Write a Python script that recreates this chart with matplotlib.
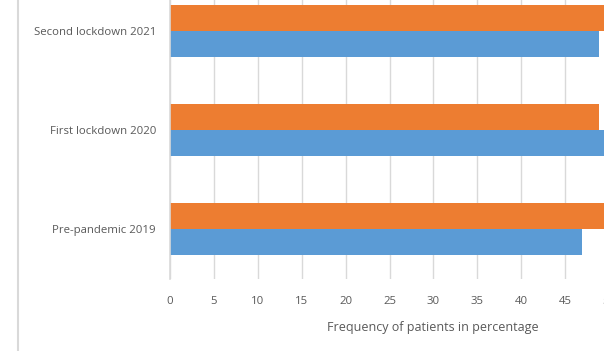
import matplotlib
matplotlib.use("Agg")
import matplotlib.pyplot as plt
import numpy as np
from matplotlib.lines import Line2D

# data (bottom to top)
categories = ["Pre-pandemic 2019", "First lockdown 2020", "Second lockdown 2021"]
blue_vals = [46.9, 51.1, 48.9]
orange_vals = [53.1, 48.9, 51.1]
xticks = [0, 5, 10, 15, 20, 25, 30, 35, 40, 45, 50]

BLUE = "#5B9BD5"
ORANGE = "#ED7D31"
GRID = "#D9D9D9"
TXT = "#595959"

plt.rcParams['font.family'] = ['Open Sans', 'DejaVu Sans']

fig = plt.figure(figsize=(6.04, 3.51), dpi=100)
ax = fig.add_axes([170 / 604, 1 - 278.5 / 351, 439 / 604, 297 / 351])

y = np.arange(len(categories))
h = 26 / 99
ax.barh(y - h / 2, blue_vals, height=h, color=BLUE, zorder=3)
ax.barh(y + h / 2, orange_vals, height=h, color=ORANGE, zorder=3)

ax.set_xlim(0, 50)
ax.set_ylim(-0.5, 2.5)
ax.set_xticks(xticks)
ax.set_yticks(y)
ax.set_yticklabels(categories)
ax.tick_params(axis='both', length=0, labelsize=8.2, colors=TXT)
ax.tick_params(axis='x', pad=12.5)
ax.tick_params(axis='y', pad=10)
ax.grid(axis='x', color=GRID, linewidth=1, zorder=0)
for s in ["top", "right", "bottom"]:
    ax.spines[s].set_visible(False)
ax.spines["left"].set_color(GRID)
ax.spines["left"].set_linewidth(1.2)
ax.spines["left"].set_zorder(4)

# axis title sits under the visible part of the axis
ax.text(29.95, -1.0, "Frequency of patients in percentage", transform=ax.transData,
        ha='center', va='center', fontsize=9, color=TXT)

# left border of the cropped region
fig.add_artist(Line2D([17.5 / 604, 17.5 / 604], [0, 1], color=GRID, linewidth=1.5,
                      transform=fig.transFigure))

fig.savefig("out.png", dpi=100)
